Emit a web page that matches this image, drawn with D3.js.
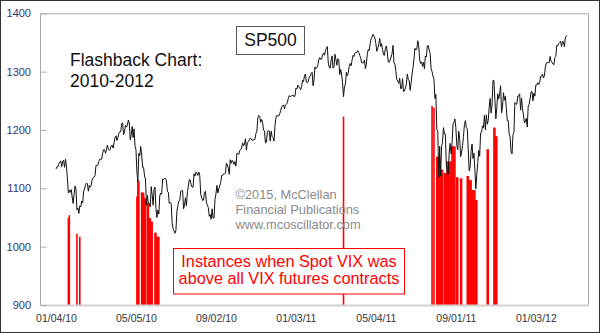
<!DOCTYPE html>
<html>
<head>
<meta charset="utf-8">
<script src="https://cdn.jsdelivr.net/npm/d3@7"></script>
<style>
  body { margin: 0; background: #fff; }
  svg { display: block; font-family: "Liberation Sans", Arial, sans-serif; }
</style>
</head>
<body>
<div id="chart"></div>
<script>
"use strict";

// S&P 500 daily closes, [month-day, close]
var spx2010 = [
  ["01-04",1133],["01-05",1137],["01-06",1137],["01-07",1142],["01-08",1145],["01-11",1147],["01-12",1137],["01-13",1146],["01-14",1148],["01-15",1136],["01-19",1150],["01-20",1138],["01-21",1116],["01-22",1092],["01-25",1097],["01-26",1093],["01-27",1098],["01-28",1085],["01-29",1074],
  ["02-01",1090],["02-02",1104],["02-03",1098],["02-04",1063],["02-05",1066],["02-08",1057],["02-09",1070],["02-10",1068],["02-11",1078],["02-12",1075],["02-16",1094],["02-17",1099],["02-18",1106],["02-19",1109],["02-22",1108],["02-23",1095],["02-24",1105],["02-25",1102],["02-26",1105],
  ["03-01",1115],["03-02",1118],["03-03",1119],["03-04",1122],["03-05",1139],["03-08",1139],["03-09",1140],["03-10",1146],["03-11",1150],["03-12",1150],["03-15",1150],["03-16",1160],["03-17",1166],["03-18",1166],["03-19",1160],["03-22",1166],["03-23",1174],["03-24",1167],["03-25",1165],["03-26",1167],["03-29",1173],["03-30",1174],["03-31",1169],
  ["04-01",1178],["04-05",1187],["04-06",1190],["04-07",1182],["04-08",1187],["04-09",1194],["04-12",1197],["04-13",1197],["04-14",1211],["04-15",1212],["04-16",1192],["04-19",1197],["04-20",1208],["04-21",1205],["04-22",1208],["04-23",1217],["04-26",1212],["04-27",1183],["04-28",1191],["04-29",1206],["04-30",1187],
  ["05-03",1202],["05-04",1173],["05-05",1166],["05-06",1128],["05-07",1111],["05-10",1160],["05-11",1156],["05-12",1172],["05-13",1157],["05-14",1136],["05-17",1136],["05-18",1121],["05-19",1116],["05-20",1071],["05-21",1088],["05-24",1074],["05-25",1074],["05-26",1068],["05-27",1103],["05-28",1089],
  ["06-01",1071],["06-02",1098],["06-03",1102],["06-04",1065],["06-07",1050],["06-08",1063],["06-09",1056],["06-10",1087],["06-11",1092],["06-14",1090],["06-15",1116],["06-16",1115],["06-17",1117],["06-18",1117],["06-21",1113],["06-22",1095],["06-23",1093],["06-24",1074],["06-25",1076],["06-28",1074],["06-29",1041],["06-30",1031],
  ["07-01",1027],["07-02",1023],["07-06",1028],["07-07",1060],["07-08",1070],["07-09",1078],["07-12",1079],["07-13",1095],["07-14",1096],["07-15",1096],["07-16",1065],["07-19",1071],["07-20",1084],["07-21",1070],["07-22",1094],["07-23",1103],["07-26",1115],["07-27",1114],["07-28",1106],["07-29",1102],["07-30",1102],
  ["08-02",1125],["08-03",1121],["08-04",1128],["08-05",1126],["08-06",1122],["08-09",1128],["08-10",1122],["08-11",1090],["08-12",1084],["08-13",1079],["08-16",1080],["08-17",1093],["08-18",1095],["08-19",1076],["08-20",1071],["08-23",1067],["08-24",1052],["08-25",1055],["08-26",1047],["08-27",1065],["08-30",1049],["08-31",1049],
  ["09-01",1081],["09-02",1090],["09-03",1105],["09-07",1092],["09-08",1099],["09-09",1104],["09-10",1110],["09-13",1122],["09-14",1122],["09-15",1125],["09-16",1125],["09-17",1126],["09-20",1143],["09-21",1140],["09-22",1134],["09-23",1124],["09-24",1149],["09-27",1143],["09-28",1148],["09-29",1145],["09-30",1141],
  ["10-01",1146],["10-04",1138],["10-05",1160],["10-06",1160],["10-07",1158],["10-08",1165],["10-11",1166],["10-12",1169],["10-13",1178],["10-14",1173],["10-15",1176],["10-18",1185],["10-19",1166],["10-20",1178],["10-21",1180],["10-22",1183],["10-25",1186],["10-26",1185],["10-27",1182],["10-28",1183],["10-29",1183],
  ["11-01",1184],["11-02",1194],["11-03",1198],["11-04",1221],["11-05",1225],["11-08",1223],["11-09",1213],["11-10",1218],["11-11",1213],["11-12",1200],["11-15",1198],["11-16",1178],["11-17",1179],["11-18",1196],["11-19",1199],["11-22",1198],["11-23",1181],["11-24",1198],["11-26",1189],["11-29",1187],["11-30",1181],
  ["12-01",1206],["12-02",1221],["12-03",1225],["12-06",1224],["12-07",1224],["12-08",1228],["12-09",1233],["12-10",1240],["12-13",1241],["12-14",1243],["12-15",1236],["12-16",1243],["12-17",1244],["12-20",1247],["12-21",1254],["12-22",1259],["12-23",1257],["12-27",1258],["12-28",1259],["12-29",1260],["12-30",1257],["12-31",1258]
];

var spx2011 = [
  ["01-03",1272],["01-04",1270],["01-05",1277],["01-06",1274],["01-07",1272],["01-10",1269],["01-11",1275],["01-12",1285],["01-13",1283],["01-14",1293],["01-18",1296],["01-19",1282],["01-20",1281],["01-21",1283],["01-24",1291],["01-25",1292],["01-26",1297],["01-27",1299],["01-28",1276],["01-31",1286],
  ["02-01",1308],["02-02",1305],["02-03",1307],["02-04",1311],["02-07",1320],["02-08",1324],["02-09",1321],["02-10",1321],["02-11",1329],["02-14",1332],["02-15",1328],["02-16",1336],["02-17",1340],["02-18",1343],["02-22",1315],["02-23",1307],["02-24",1306],["02-25",1320],["02-28",1327],
  ["03-01",1306],["03-02",1308],["03-03",1330],["03-04",1321],["03-07",1311],["03-08",1322],["03-09",1321],["03-10",1295],["03-11",1304],["03-14",1296],["03-15",1281],["03-16",1257],["03-17",1274],["03-18",1279],["03-21",1299],["03-22",1293],["03-23",1298],["03-24",1309],["03-25",1314],["03-28",1310],["03-29",1320],["03-30",1328],["03-31",1326],
  ["04-01",1332],["04-04",1333],["04-05",1333],["04-06",1336],["04-07",1333],["04-08",1328],["04-11",1324],["04-12",1315],["04-13",1315],["04-14",1315],["04-15",1320],["04-18",1305],["04-19",1313],["04-20",1330],["04-21",1338],["04-25",1336],["04-26",1348],["04-27",1356],["04-28",1360],["04-29",1364],
  ["05-02",1361],["05-03",1357],["05-04",1348],["05-05",1335],["05-06",1340],["05-09",1346],["05-10",1357],["05-11",1343],["05-12",1348],["05-13",1338],["05-16",1329],["05-17",1328],["05-18",1340],["05-19",1344],["05-20",1333],["05-23",1317],["05-24",1316],["05-25",1320],["05-26",1325],["05-27",1331],["05-31",1345],
  ["06-01",1315],["06-02",1313],["06-03",1300],["06-06",1286],["06-07",1284],["06-08",1280],["06-09",1289],["06-10",1271],["06-13",1271],["06-14",1288],["06-15",1266],["06-16",1267],["06-17",1272],["06-20",1278],["06-21",1296],["06-22",1287],["06-23",1284],["06-24",1268],["06-27",1281],["06-28",1296],["06-29",1307],["06-30",1321],
  ["07-01",1340],["07-05",1337],["07-06",1339],["07-07",1353],["07-08",1344],["07-11",1320],["07-12",1314],["07-13",1317],["07-14",1309],["07-15",1316],["07-18",1305],["07-19",1327],["07-20",1325],["07-21",1344],["07-22",1345],["07-25",1337],["07-26",1331],["07-27",1305],["07-28",1300],["07-29",1292],
  ["08-01",1287],["08-02",1254],["08-03",1261],["08-04",1200],["08-05",1199],["08-08",1119],["08-09",1172],["08-10",1121],["08-11",1172],["08-12",1179],["08-15",1204],["08-16",1193],["08-17",1193],["08-18",1140],["08-19",1124],["08-22",1124],["08-23",1162],["08-24",1177],["08-25",1159],["08-26",1177],["08-29",1210],["08-30",1213],["08-31",1219],
  ["09-01",1204],["09-02",1174],["09-06",1166],["09-07",1198],["09-08",1186],["09-09",1154],["09-12",1162],["09-13",1173],["09-14",1189],["09-15",1209],["09-16",1216],["09-19",1204],["09-20",1202],["09-21",1167],["09-22",1130],["09-23",1136],["09-26",1163],["09-27",1176],["09-28",1151],["09-29",1160],["09-30",1131],
  ["10-03",1099],["10-04",1124],["10-05",1144],["10-06",1165],["10-07",1155],["10-10",1195],["10-11",1196],["10-12",1207],["10-13",1204],["10-14",1225],["10-17",1200],["10-18",1226],["10-19",1210],["10-20",1216],["10-21",1239],["10-24",1254],["10-25",1229],["10-26",1243],["10-27",1285],["10-28",1285],["10-31",1253],
  ["11-01",1219],["11-02",1238],["11-03",1262],["11-04",1253],["11-07",1262],["11-08",1276],["11-09",1229],["11-10",1239],["11-11",1264],["11-14",1251],["11-15",1258],["11-16",1237],["11-17",1216],["11-18",1216],["11-21",1193],["11-22",1188],["11-23",1162],["11-25",1159],["11-28",1192],["11-29",1196],["11-30",1247],
  ["12-01",1245],["12-02",1244],["12-05",1258],["12-06",1258],["12-07",1262],["12-08",1234],["12-09",1255],["12-12",1236],["12-13",1226],["12-14",1212],["12-15",1215],["12-16",1220],["12-19",1205],["12-20",1241],["12-21",1244],["12-22",1254],["12-23",1265],["12-27",1266],["12-28",1250],["12-29",1263],["12-30",1258]
];

var spx2012 = [
  ["01-03",1277],["01-04",1277],["01-05",1281],["01-06",1278],["01-09",1281],["01-10",1292],["01-11",1292],["01-12",1296],["01-13",1289],["01-17",1293],["01-18",1308],["01-19",1315],["01-20",1315],["01-23",1316],["01-24",1315],["01-25",1326],["01-26",1318],["01-27",1316],["01-30",1313],["01-31",1312],
  ["02-01",1324],["02-02",1326],["02-03",1345],["02-06",1344],["02-07",1348],["02-08",1350],["02-09",1352],["02-10",1343],["02-13",1352],["02-14",1351],["02-15",1343],["02-16",1358],["02-17",1361],["02-21",1362]
];

// days when spot VIX was above all VIX futures; bar height read on the SP500 scale
var vixDays = [
  ["2010-01-22",1049],["2010-01-25",1054],["2010-02-04",1022],["2010-02-09",1017],
  ["2010-05-06",1086],["2010-05-07",1114],["2010-05-10",1112],
  ["2010-05-13",1093],["2010-05-14",1093],["2010-05-17",1092],["2010-05-18",1084],["2010-05-19",1082],
  ["2010-05-21",1075],["2010-05-24",1075],["2010-05-25",1049],["2010-05-26",1049],["2010-05-27",1043],["2010-05-28",1043],
  ["2010-06-03",1024],["2010-06-04",1024],["2010-06-07",1017],["2010-06-08",1017],["2010-06-09",1017],
  ["2011-03-16",1223],
  ["2011-07-28",1241],["2011-08-01",1238],
  ["2011-08-04",1154],["2011-08-05",1154],["2011-08-08",1154],["2011-08-09",1154],
  ["2011-08-10",1132],["2011-08-11",1132],["2011-08-12",1132],
  ["2011-08-16",1126],["2011-08-17",1126],["2011-08-18",1126],
  ["2011-08-19",1146],["2011-08-22",1146],["2011-08-23",1146],["2011-08-24",1146],["2011-08-25",1146],
  ["2011-08-26",1172],["2011-08-29",1172],["2011-08-30",1172],["2011-08-31",1172],
  ["2011-09-02",1119],["2011-09-06",1119],["2011-09-09",1117],["2011-09-12",1117],
  ["2011-09-20",1121],["2011-09-21",1121],["2011-09-22",1114],["2011-09-23",1114],["2011-09-26",1114],
  ["2011-09-27",1097],["2011-09-28",1097],["2011-09-29",1097],["2011-09-30",1097],
  ["2011-10-03",1080],["2011-10-04",1080],
  ["2011-10-19",1167],["2011-10-20",1167],
  ["2011-10-28",1204],["2011-10-31",1204],["2011-11-01",1189],["2011-11-02",1189]
];

var yTicks = [900, 1000, 1100, 1200, 1300, 1400];
var xTickDates = ["2010-01-04","2010-05-05","2010-09-02","2011-01-03","2011-05-04","2011-09-01","2012-01-03"];

// NYSE holidays, so the x axis counts trading days only
var holidays = ["2010-01-01","2010-01-18","2010-02-15","2010-04-02","2010-05-31","2010-07-05","2010-09-06","2010-11-25","2010-12-24",
  "2011-01-17","2011-02-21","2011-04-22","2011-05-30","2011-07-04","2011-09-05","2011-11-24","2011-12-26",
  "2012-01-02","2012-01-16","2012-02-20"];

// trading day calendar
var parse = d3.utcParse("%Y-%m-%d"),
    key = d3.utcFormat("%Y-%m-%d"),
    label = d3.utcFormat("%m/%d/%y");
var dayIndex = {}, n = 0;
d3.utcDays(parse("2010-01-04"), parse("2012-04-01")).forEach(function(d) {
  var wd = d.getUTCDay(), k = key(d);
  if (wd === 0 || wd === 6 || holidays.indexOf(k) >= 0) return;
  dayIndex[k] = n++;
});

function yearRows(year, rows) {
  return rows.map(function(r) { return {day: dayIndex[year + "-" + r[0]], close: r[1]}; });
}
var spx = [].concat(yearRows(2010, spx2010), yearRows(2011, spx2011), yearRows(2012, spx2012))
  .filter(function(d) { return d.day !== undefined; });
var bars = vixDays.map(function(r) { return {day: dayIndex[r[0]], value: r[1]}; })
  .filter(function(d) { return d.day !== undefined; });

// set the dimensions and margins of the graph
var margin = {top: 13.3, right: 12, bottom: 28, left: 40},
  width = 600 - margin.left - margin.right,
  height = 333 - margin.top - margin.bottom;

var root = d3.select("#chart")
.append("svg")
  .attr("width", 600)
  .attr("height", 333);

root.append("rect")
  .attr("x", 0.5).attr("y", 0.5)
  .attr("width", 599).attr("height", 332)
  .style("fill", "#fff")
  .style("stroke", "#333");

var svg = root.append("g")
  .attr("transform", "translate(" + margin.left + "," + margin.top + ")");

var x = d3.scaleLinear().domain([-16.8, 558.8]).range([0, width]);
var y = d3.scaleLinear().domain([900, 1400]).range([height, 0]);

// plot frame
svg.append("path")
  .attr("d", "M0.5," + height + "V0.5H" + (width + 0.5) + "V" + height)
  .style("fill", "none")
  .style("stroke", "#a8a8a8");

// red bars
svg.selectAll(".vix")
  .data(bars)
  .enter()
  .append("rect")
    .attr("class", "vix")
    .attr("x", function(d) { return x(d.day) - 0.8; })
    .attr("width", 1.6)
    .attr("y", function(d) { return y(d.value); })
    .attr("height", function(d) { return y(900) - y(d.value); })
    .style("fill", "#ff0000");

// bottom axis band
svg.append("line")
  .attr("x1", 0).attr("x2", width + 1)
  .attr("y1", height + 0.5).attr("y2", height + 0.5)
  .style("stroke", "#d2d2d2")
  .style("stroke-width", 2);

// y axis
var yAxis = svg.append("g")
  .call(d3.axisLeft(y).tickValues(yTicks).tickFormat(d3.format("d"))
    .tickSizeInner(-6).tickSizeOuter(0).tickPadding(9));
yAxis.select(".domain").remove();
yAxis.selectAll("line").style("stroke", "#aaa").attr("transform", "translate(0.5,0)");
yAxis.selectAll("text")
  .style("font-family", "'Liberation Sans', Arial, sans-serif")
  .style("font-size", "11px")
  .style("fill", "#34346a");

// x axis
var xAxis = svg.append("g")
  .attr("transform", "translate(0," + height + ")")
  .call(d3.axisBottom(x)
    .tickValues(xTickDates.map(function(s) { return dayIndex[s]; }))
    .tickFormat(function(v, i) { return label(parse(xTickDates[i])); })
    .tickSize(0).tickPadding(10));
xAxis.select(".domain").remove();
xAxis.selectAll("text")
  .style("font-family", "'Liberation Sans', Arial, sans-serif")
  .style("font-size", "10.5px")
  .style("fill", "#333");

// SP500 line
var line = d3.line()
  .x(function(d) { return x(d.day); })
  .y(function(d) { return y(d.close); });
svg.append("path")
  .datum(spx)
  .attr("d", line)
  .style("fill", "none")
  .style("stroke", "#111")
  .style("stroke-width", 1);

// copyright note
var copy = root.append("text")
  .style("font-size", "12.8px")
  .style("fill", "#8a8a8a");
["\u00a92015, McClellan", "Financial Publications", "www.mcoscillator.com"].forEach(function(t, i) {
  copy.append("tspan").attr("x", 235.5).attr("y", 198.5 + i * 15).text(t);
});

// title text
var title = root.append("text")
  .style("font-size", "17.5px")
  .style("fill", "#111");
["Flashback Chart:", "2010-2012"].forEach(function(t, i) {
  title.append("tspan").attr("x", 70).attr("y", 65.7 + i * 21.6).text(t);
});

// SP500 label box
root.append("rect")
  .attr("x", 236.5).attr("y", 26.5)
  .attr("width", 68).attr("height", 28)
  .style("fill", "#fff")
  .style("stroke", "#555");
root.append("text")
  .attr("x", 270.5).attr("y", 45.8)
  .attr("text-anchor", "middle")
  .style("font-size", "17.5px")
  .style("fill", "#111")
  .text("SP500");

// red explanation box
root.append("rect")
  .attr("x", 173.5).attr("y", 248.5)
  .attr("width", 231).attr("height", 45.5)
  .style("fill", "#fff")
  .style("stroke", "#ff0000");
var note = root.append("text")
  .attr("text-anchor", "middle")
  .style("font-size", "16.3px")
  .style("fill", "#ff0000");
["Instances when Spot VIX was", "above all VIX futures contracts"].forEach(function(t, i) {
  note.append("tspan").attr("x", 289).attr("y", 266.8 + i * 16.8).text(t);
});
</script>
</body>
</html>
